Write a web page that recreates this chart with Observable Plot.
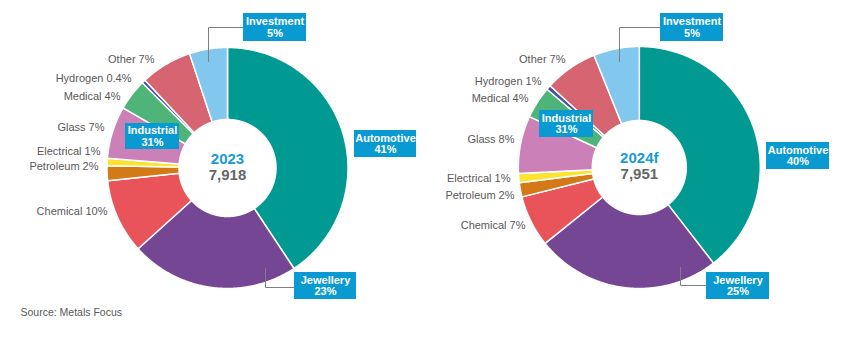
<!DOCTYPE html>
<html>
<head>
<meta charset="utf-8">
<script src="https://cdn.jsdelivr.net/npm/d3@7"></script>
<script src="https://cdn.jsdelivr.net/npm/@observablehq/plot@0.6"></script>
<style>
  html, body { margin: 0; padding: 0; background: #fff; }
  #chart svg { display: block; }
</style>
</head>
<body>
<div id="chart"></div>
<script>
// ---------- data ----------
const categories = ["Automotive","Jewellery","Chemical","Petroleum","Electrical","Glass","Medical","Hydrogen","Other","Investment"];
const colors = ["#009a93","#744694","#e8545a","#d37a16","#fde232","#cc80b8","#4fb477","#4a4f9e","#d76471","#82c7ee"];
const years = ["2023","2024f"];
const totals = ["7,918","7,951"];
// shares (%)
const share2023 = [40.7, 22.6, 10.0, 2.0, 1.0, 7.0, 4.2, 0.5, 6.9, 5.1];
const share2024 = [39.5, 24.7, 6.9, 1.9, 1.2, 7.7, 4.3, 0.6, 7.1, 6.1];
// printed labels
const labels2023 = ["41%","23%","10%","2%","1%","7%","4%","0.4%","7%","5%"];
const labels2024 = ["40%","25%","7%","2%","1%","8%","4%","1%","7%","5%"];
const industrialLabel = ["31%","31%"];
const source = "Source: Metals Focus";

// ---------- layout (pixels) ----------
const panels = [
  {cx: 227, cy: 167.5, r0: 48.5, r1: 120.5,
   boxes: {
     Investment: {x1: 243, x2: 306, y1: 13, y2: 41, leader: [[243,27],[208,27],[208,61]]},
     Automotive: {x1: 354, x2: 416, y1: 130, y2: 157},
     Jewellery:  {x1: 294, x2: 356, y1: 272, y2: 299, leader: [[294,287],[265,287],[265,268]]},
     Industrial: {x1: 125, x2: 179, y1: 123, y2: 149}
   },
   outside: {Other: [154,59], Hydrogen: [131,78], Medical: [120,96], Glass: [104,127],
             Electrical: [100,151], Petroleum: [98,166], Chemical: [107,211]}},
  {cx: 638.8, cy: 167, r0: 47, r1: 121,
   boxes: {
     Investment: {x1: 660, x2: 723, y1: 13, y2: 41, leader: [[660,27],[619,27],[619,61]]},
     Automotive: {x1: 766, x2: 829, y1: 142, y2: 169},
     Jewellery:  {x1: 706, x2: 769, y1: 272, y2: 299, leader: [[706,285],[680,285],[680,267]]},
     Industrial: {x1: 539, x2: 593, y1: 110, y2: 137}
   },
   outside: {Other: [565,59], Hydrogen: [541,81], Medical: [528,98], Glass: [514,139],
             Electrical: [510,178], Petroleum: [514,195], Chemical: [525,225]}}
];

const shares = [share2023, share2024];
const labels = [labels2023, labels2024];

// ---------- build geometry ----------
const slicePts = [];
const boxRects = [];
const boxTexts = [];
const leaders = [];
const outsideTexts = [];
const centerTexts = [];

panels.forEach((p, pi) => {
  const rows = categories.map((c, i) => ({cat: c, value: shares[pi][i], color: colors[i], label: labels[pi][i]}));
  const arcs = d3.pie().value(d => d.value).sort(null)(rows);
  const pt = (a, r) => [p.cx + r * Math.sin(a), p.cy - r * Math.cos(a)];
  arcs.forEach(a => {
    const key = pi + "-" + a.data.cat;
    const n = Math.max(2, Math.ceil((a.endAngle - a.startAngle) / 0.008));
    const pts = [];
    for (let k = 0; k <= n; k++) pts.push(pt(a.startAngle + (a.endAngle - a.startAngle) * k / n, p.r1));
    for (let k = n; k >= 0; k--) pts.push(pt(a.startAngle + (a.endAngle - a.startAngle) * k / n, p.r0));
    pts.push(pts[0]);
    pts.forEach(([x, y]) => slicePts.push({key, x, y, color: a.data.color}));

    const b = p.boxes[a.data.cat];
    if (b) {
      boxRects.push(b);
      boxTexts.push({x: (b.x1 + b.x2) / 2, y: (b.y1 + b.y2) / 2, text: a.data.cat + "\n" + a.data.label});
      if (b.leader) b.leader.forEach(([x, y]) => leaders.push({key, x, y}));
    }
    const o = p.outside[a.data.cat];
    if (o) outsideTexts.push({x: o[0], y: o[1], text: a.data.cat + " " + a.data.label});
  });
  const ib = p.boxes.Industrial;
  boxRects.push(ib);
  boxTexts.push({x: (ib.x1 + ib.x2) / 2, y: (ib.y1 + ib.y2) / 2, text: "Industrial\n" + industrialLabel[pi]});
  centerTexts.push({x: p.cx, y: p.cy - 9, text: years[pi], color: "#1a9bd7"});
  centerTexts.push({x: p.cx, y: p.cy + 7, text: totals[pi], color: "#666666"});
});

const font = "'Liberation Sans', Arial, sans-serif";

const chart = Plot.plot({
  width: 845,
  height: 344,
  margin: 0,
  x: {domain: [0, 845], range: [0, 845], axis: null},
  y: {domain: [0, 344], range: [0, 344], axis: null},
  style: {fontFamily: font, background: "#fff"},
  marks: [
    Plot.line(slicePts, {x: "x", y: "y", z: "key", fill: "color", stroke: "#fff", strokeWidth: 1.5, strokeLinejoin: "round", curve: "linear"}),
    Plot.line(leaders, {x: "x", y: "y", z: "key", stroke: "#7f7f7f", strokeWidth: 1}),
    Plot.rect(boxRects, {x1: "x1", x2: "x2", y1: "y1", y2: "y2", fill: "#0a9ad2"}),
    Plot.text(boxTexts, {x: "x", y: "y", text: "text", fill: "#fff", fontSize: 11, fontWeight: "bold", lineHeight: 1.03}),
    Plot.text(outsideTexts, {x: "x", y: "y", text: "text", fill: "#595959", fontSize: 11, textAnchor: "end"}),
    Plot.text(centerTexts, {x: "x", y: "y", text: "text", fill: "color", fontSize: 15, fontWeight: "bold"}),
    Plot.text([source], {x: () => 20, y: () => 312, text: d => d, fill: "#595959", fontSize: 10.5, textAnchor: "start"})
  ]
});
document.getElementById("chart").appendChild(chart);
</script>
</body>
</html>
